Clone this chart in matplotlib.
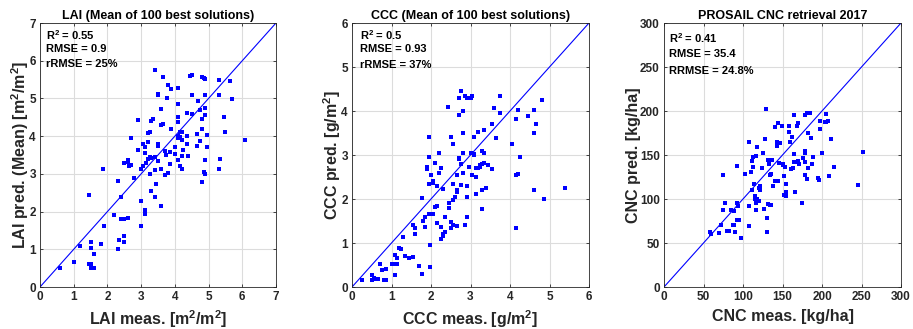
import matplotlib
matplotlib.use("Agg")
import matplotlib.pyplot as plt

plt.rcParams["font.family"] = ["Liberation Sans", "DejaVu Sans"]
plt.rcParams["mathtext.fontset"] = "custom"
plt.rcParams["mathtext.rm"] = "Liberation Sans:bold"
plt.rcParams["mathtext.default"] = "rm"

# LAI panel (measured, predicted)
lai_meas = [0.58, 1.0, 1.2, 1.45, 1.5, 1.5, 1.55, 1.6, 1.5, 1.5, 1.5, 1.6, 1.8, 1.45, 1.9, 1.87,
            2.2, 2.3, 2.35, 2.5, 2.5, 2.4, 2.45, 2.5, 2.6, 2.4, 2.3, 2.5, 2.6, 2.6, 2.65, 2.7,
            2.8, 2.7, 2.9, 2.92, 3.0, 3.0, 3.1, 3.1, 3.0, 3.05, 3.05, 3.1, 3.1, 3.15,
            3.2, 3.2, 3.25, 3.3, 3.35, 3.25, 3.3, 3.3, 3.2, 3.25,
            3.4, 3.4, 3.4, 3.45, 3.42, 3.5, 3.5, 3.5, 3.5, 3.5,
            3.6, 3.6, 3.65, 3.6, 3.6, 3.65, 3.7, 3.7, 3.75,
            3.8, 3.78, 3.8, 3.85, 3.85, 3.9, 3.9, 4.0, 4.0,
            4.1, 4.1, 4.1, 4.1, 4.1, 4.1, 4.15, 4.15, 4.1, 4.15,
            4.2, 4.2, 4.2, 4.2, 4.25, 4.35, 4.35, 4.35, 4.4,
            4.45, 4.5, 4.5, 4.5, 4.65, 4.65, 4.7, 4.75, 4.75,
            4.8, 4.85, 4.9, 4.8, 4.8, 4.8, 4.85, 4.9, 4.9, 4.9, 4.9, 4.9,
            4.95, 4.95, 5.3, 5.3, 5.3, 5.35, 5.45, 5.5, 5.65, 5.7, 6.07]
lai_pred = [0.5, 0.65, 1.08, 0.6, 0.6, 0.55, 0.5, 0.5, 0.5, 1.2, 1.03, 0.87, 1.15, 2.43, 1.62, 3.14,
            1.91, 1.0, 1.25, 1.18, 1.36, 1.8, 1.8, 1.8, 1.83, 2.38, 2.81, 3.3, 3.38, 3.32, 3.2, 3.24,
            2.9, 3.96, 3.64, 4.44, 1.62, 2.27, 2.05, 1.93, 3.12, 3.2, 3.8, 3.7, 3.55, 3.28,
            3.85, 4.08, 4.12, 4.4, 4.45, 3.0, 3.42, 2.55, 3.4, 3.45,
            2.38, 3.1, 3.45, 2.74, 5.76, 5.1, 5.13, 3.8, 3.75, 3.35,
            4.73, 4.3, 4.32, 3.12, 2.15, 5.58, 3.6, 2.98, 3.5,
            5.35, 5.02, 3.02, 3.57, 3.26, 5.25, 4.18, 3.72, 3.52,
            5.27, 4.85, 4.52, 4.38, 4.0, 3.95, 4.1, 3.97, 3.37, 3.2,
            4.1, 3.9, 3.47, 3.12, 3.62, 4.62, 4.0, 3.78, 3.47,
            5.6, 5.62, 5.08, 4.58, 4.07, 3.75, 4.93, 4.68, 3.88,
            5.58, 5.55, 5.52, 4.45, 4.2, 2.78, 3.05, 5.1, 4.75, 4.55, 3.38, 3.0,
            4.03, 3.72, 5.5, 5.08, 3.12, 3.4, 4.5, 4.1, 5.45, 4.98, 3.9]

# CCC panel
ccc_meas = [0.25, 0.5, 0.5, 0.55, 0.6, 0.65, 0.7, 0.75, 0.85, 0.8, 0.85,
            1.0, 1.05, 1.1, 1.15, 1.15, 1.1, 1.2, 1.25, 1.3, 1.35, 1.45,
            1.55, 1.6, 1.6, 1.55, 1.7, 1.78, 1.78, 1.8, 1.85, 1.85,
            1.9, 1.9, 1.95, 1.95, 1.95, 1.95, 1.98, 1.98,
            2.0, 2.05, 2.05, 2.05, 2.1, 2.1, 2.15, 2.15, 2.15,
            2.2, 2.2, 2.25, 2.25, 2.25, 2.3, 2.35, 2.3, 2.35, 2.3,
            2.42, 2.45, 2.45, 2.5, 2.55, 2.5, 2.5, 2.55, 2.55, 2.55, 2.6,
            2.65, 2.65, 2.65, 2.65, 2.7, 2.75, 2.7, 2.7, 2.7, 2.75, 2.75,
            2.8, 2.8, 2.8, 2.8, 2.85, 2.9, 2.95, 3.0, 3.05,
            2.9, 2.9, 2.85, 2.9, 2.95, 3.0, 3.05, 3.1, 3.1, 3.1,
            3.15, 3.15, 3.15, 3.2, 3.2, 3.25, 3.25, 3.3, 3.3, 3.3, 3.3,
            3.35, 3.35, 3.35, 3.4, 3.45, 3.55, 3.55, 3.6, 3.65, 3.75, 3.75,
            4.05, 4.15, 4.15, 4.15, 4.2, 4.2, 4.25, 4.45, 4.6, 4.62, 4.62, 4.65,
            4.8, 4.85, 5.38]
ccc_pred = [0.15, 0.28, 0.15, 0.2, 0.18, 0.18, 0.52, 0.38, 0.42, 0.15, 0.15,
            0.53, 0.52, 0.72, 0.52, 0.65, 0.27, 0.88, 0.87, 1.13, 0.7, 0.67,
            1.42, 1.33, 1.2, 0.68, 0.48, 0.3, 2.03, 1.5, 1.58, 1.37,
            2.72, 2.68, 2.35, 2.96, 3.41, 1.65, 0.95, 0.45,
            2.55, 1.67, 2.42, 2.37, 2.82, 1.82, 2.3, 1.84, 1.45,
            3.05, 2.6, 2.7, 1.37, 1.1, 1.2, 1.25, 1.15, 1.6, 2.22,
            4.1, 1.9, 1.8, 3.42, 3.25, 1.48, 1.33, 1.4, 2.33, 1.97, 2.05,
            2.55, 2.2, 2.15, 1.38, 4.3, 4.45, 3.9, 2.9, 2.93, 2.8, 2.32,
            4.0, 3.5, 3.05, 2.6, 4.35, 4.3, 4.3, 4.3, 4.35,
            2.3, 2.05, 1.42, 1.58, 2.72, 3.05, 2.55, 3.0, 3.02, 3.4,
            2.7, 2.5, 2.12, 3.52, 2.7, 2.77, 2.72, 3.1, 2.8, 2.2, 1.78,
            3.57, 3.04, 2.82, 2.25, 2.78, 3.7, 2.68, 4.06, 3.38, 4.35, 3.95,
            3.24, 3.82, 2.55, 1.35, 4.02, 2.57, 2.95, 3.88, 2.2, 4.02, 3.5, 3.7,
            4.25, 2.0, 2.24]

# CNC panel
cnc_meas = [58, 60, 70, 72, 75, 75, 77, 80, 82, 85, 87, 89, 88,
            90, 92, 92, 94, 93, 95, 97, 103, 107, 107, 107,
            110, 111, 112, 113, 113, 114, 115, 116, 115, 117, 117,
            118, 118, 120, 120, 121, 122, 124, 125, 126,
            128, 129, 130, 130, 132, 133, 132, 134, 134, 135, 136, 137, 138,
            140, 141, 143, 143, 144, 144, 145, 147, 149, 150, 151,
            152, 152, 154, 155, 155, 153, 158, 158, 160, 161, 162, 163,
            165, 165, 165, 166, 168, 169, 170, 170, 171,
            175, 176, 178, 178, 179, 179, 179,
            181, 182, 182, 181, 183, 185, 186, 187, 188,
            195, 196, 197, 198, 200, 204, 205, 205, 207,
            209, 212, 215, 246, 252]
cnc_pred = [63, 60, 61, 70, 127, 88, 95, 64, 64, 87, 70, 86, 70,
            63, 96, 137, 92, 76, 76, 56, 128, 165, 92, 69,
            131, 110, 143, 148, 136, 117, 103, 95, 100, 149, 87,
            159, 100, 112, 98, 110, 115, 135, 152, 89,
            168, 202, 78, 62, 144, 140, 94, 93, 127, 128, 93, 144, 115,
            182, 121, 160, 165, 120, 186, 141, 164, 183, 140, 139,
            126, 105, 103, 108, 117, 136, 183, 176, 165, 134, 171, 135,
            196, 151, 142, 108, 183, 143, 186, 142, 140,
            96, 147, 127, 142, 152, 154, 196,
            198, 175, 135, 123, 198, 198, 169, 140, 148,
            124, 122, 180, 189, 152, 187, 197, 188, 189,
            126, 168, 136, 116, 153]

panels = [
    dict(x=lai_meas, y=lai_pred, lim=7, ticks=range(0, 8),
         title="LAI (Mean of 100 best solutions)",
         xlabel="LAI meas. [m$^2$/m$^2$]", ylabel="LAI pred. (Mean) [m$^2$/m$^2$]",
         stats=["R$^2$ = 0.55", "RMSE = 0.9", "rRMSE = 25%"],
         left=40, width=236, tx=0.025, ty=[0.955, 0.90, 0.845]),
    dict(x=ccc_meas, y=ccc_pred, lim=6, ticks=range(0, 7),
         title="CCC (Mean of 100 best solutions)",
         xlabel="CCC meas. [g/m$^2$]", ylabel="CCC pred. [g/m$^2$]",
         stats=["R$^2$ = 0.5", "RMSE = 0.93", "rRMSE = 37%"],
         left=352, width=237, tx=0.035, ty=[0.955, 0.90, 0.84]),
    dict(x=cnc_meas, y=cnc_pred, lim=300, ticks=range(0, 301, 50),
         title="PROSAIL CNC retrieval 2017",
         xlabel="CNC meas. [kg/ha]", ylabel="CNC pred. [kg/ha]",
         stats=["R$^2$ = 0.41", "RMSE = 35.4", "RRMSE = 24.8%"],
         left=664, width=237, tx=0.022, ty=[0.943, 0.882, 0.817]),
]

W, H = 913, 329
fig = plt.figure(figsize=(W / 100, H / 100), dpi=100)
txtc = "#262626"

for p in panels:
    ax = fig.add_axes([p["left"] / W, (H - 287) / H, p["width"] / W, 264 / H])
    ax.plot([0, p["lim"]], [0, p["lim"]], color="blue", lw=0.8, zorder=2)
    ax.plot(p["x"], p["y"], "s", color="blue", ms=3, mew=0, zorder=3)
    ax.set_xlim(0, p["lim"])
    ax.set_ylim(0, p["lim"])
    ax.set_xticks(list(p["ticks"]))
    ax.set_yticks(list(p["ticks"]))
    ax.grid(True, color="#dcdcdc", lw=0.8)
    ax.set_axisbelow(True)
    ax.tick_params(direction="in", length=2.5, width=0.6, labelsize=8.5,
                   colors=txtc, top=True, right=True, pad=3)
    for lab in ax.get_xticklabels() + ax.get_yticklabels():
        lab.set_fontweight("bold")
    for s in ax.spines.values():
        s.set_color(txtc)
        s.set_linewidth(0.6)
    ax.set_title(p["title"], fontsize=9, fontweight="bold", color="black", pad=3)
    ax.set_xlabel(p["xlabel"], fontsize=11.5, fontweight="bold", color=txtc, labelpad=4)
    ax.set_ylabel(p["ylabel"], fontsize=11.5, fontweight="bold", color=txtc, labelpad=-1)
    for t, yy in zip(p["stats"], p["ty"]):
        ax.text(p["tx"], yy, t, transform=ax.transAxes, fontsize=8,
                fontweight="bold", color="black", va="center", ha="left")

fig.savefig("out.png", dpi=100, facecolor="white")
